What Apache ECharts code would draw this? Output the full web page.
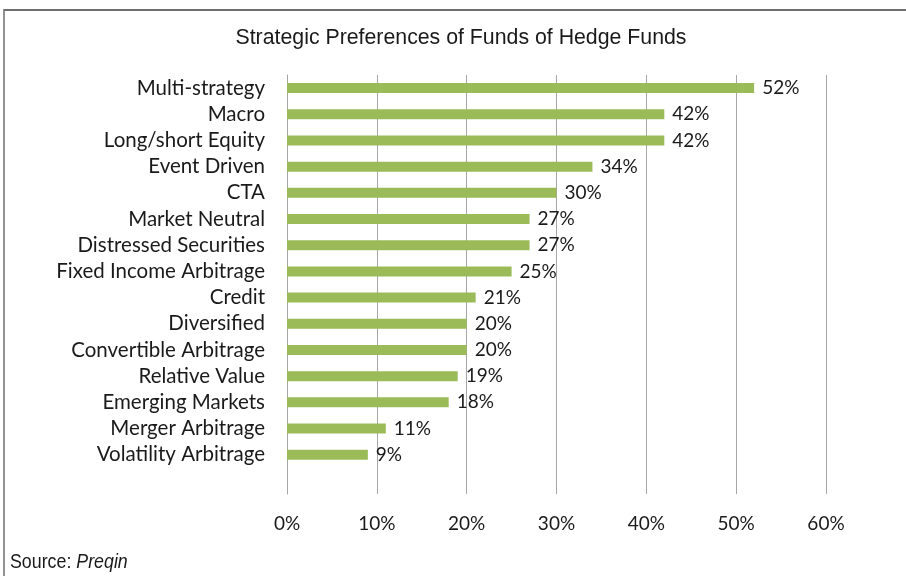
<!DOCTYPE html>
<html>
<head>
<meta charset="utf-8">
<style>
  html, body { margin: 0; padding: 0; background: #fff; }
  #chart { width: 906px; height: 576px; }
</style>
<script src="https://cdn.jsdelivr.net/npm/echarts@6/dist/echarts.min.js"></script>
</head>
<body>
<div id="chart"></div>
<script>
// data, top to bottom
// (the source chart keeps one empty slot under the last bar)
var categories = [
  'Multi-strategy', 'Macro', 'Long/short Equity', 'Event Driven', 'CTA',
  'Market Neutral', 'Distressed Securities', 'Fixed Income Arbitrage', 'Credit',
  'Diversified', 'Convertible Arbitrage', 'Relative Value', 'Emerging Markets',
  'Merger Arbitrage', 'Volatility Arbitrage', ''
];
var shares = [52, 42, 42, 34, 30, 27, 27, 25, 21, 20, 20, 19, 18, 11, 9];
var xTicks = [0, 10, 20, 30, 40, 50, 60];

var labelFont = 'Lato, "Open Sans", sans-serif';
var chart = echarts.init(document.getElementById('chart'));

chart.setOption({
  animation: false,
  title: {
    text: 'Strategic Preferences of Funds of Hedge Funds',
    left: 456,
    textAlign: 'center',
    top: 23,
    textStyle: {
      fontFamily: '"Liberation Sans", Arial, sans-serif',
      fontWeight: 'normal',
      fontSize: 21.3,
      color: '#1a1a1a'
    }
  },
  grid: {
    left: 287,
    right: 80,
    top: 75,
    bottom: 82,
    containLabel: false
  },
  xAxis: {
    type: 'value',
    min: xTicks[0],
    max: xTicks[xTicks.length - 1],
    interval: 10,
    axisLine: { show: false },
    axisTick: { show: false },
    splitLine: { lineStyle: { color: '#a6a6a6', width: 1 } },
    axisLabel: {
      margin: 20,
      formatter: '{value}%',
      fontFamily: labelFont,
      fontSize: 19,
      color: '#1a1a1a'
    }
  },
  yAxis: {
    type: 'category',
    inverse: true,
    data: categories,
    axisLine: { show: true, lineStyle: { color: '#a6a6a6' } },
    axisTick: { show: false },
    axisLabel: {
      interval: 0,
      margin: 22,
      fontFamily: labelFont,
      fontSize: 20.5,
      color: '#1a1a1a'
    }
  },
  series: [
    {
      type: 'bar',
      data: shares,
      barWidth: 10,
      itemStyle: { color: '#9bbb59' },
      label: {
        show: true,
        position: 'right',
        distance: 8,
        formatter: '{c}%',
        fontFamily: labelFont,
        fontSize: 19,
        color: '#1a1a1a'
      }
    }
  ],
  graphic: [
    {
      type: 'line',
      shape: { x1: 4, y1: 10, x2: 906, y2: 10 },
      style: { stroke: '#6f6f6f', lineWidth: 2 }
    },
    {
      type: 'line',
      shape: { x1: 4, y1: 9, x2: 4, y2: 576 },
      style: { stroke: '#6f6f6f', lineWidth: 1.5 }
    },
    {
      type: 'text',
      x: 10,
      y: 562,
      scaleX: 0.89,
      style: {
        x: 0,
        y: 0,
        text: 'Source: {i|Preqin}',
        font: '20px "Liberation Sans", Arial, sans-serif',
        fill: '#1a1a1a',
        align: 'left',
        verticalAlign: 'middle',
        rich: {
          i: {
            fontStyle: 'italic',
            fontSize: 20,
            fontFamily: '"Liberation Sans", Arial, sans-serif',
            fill: '#1a1a1a'
          }
        }
      }
    }
  ]
});
</script>
</body>
</html>
